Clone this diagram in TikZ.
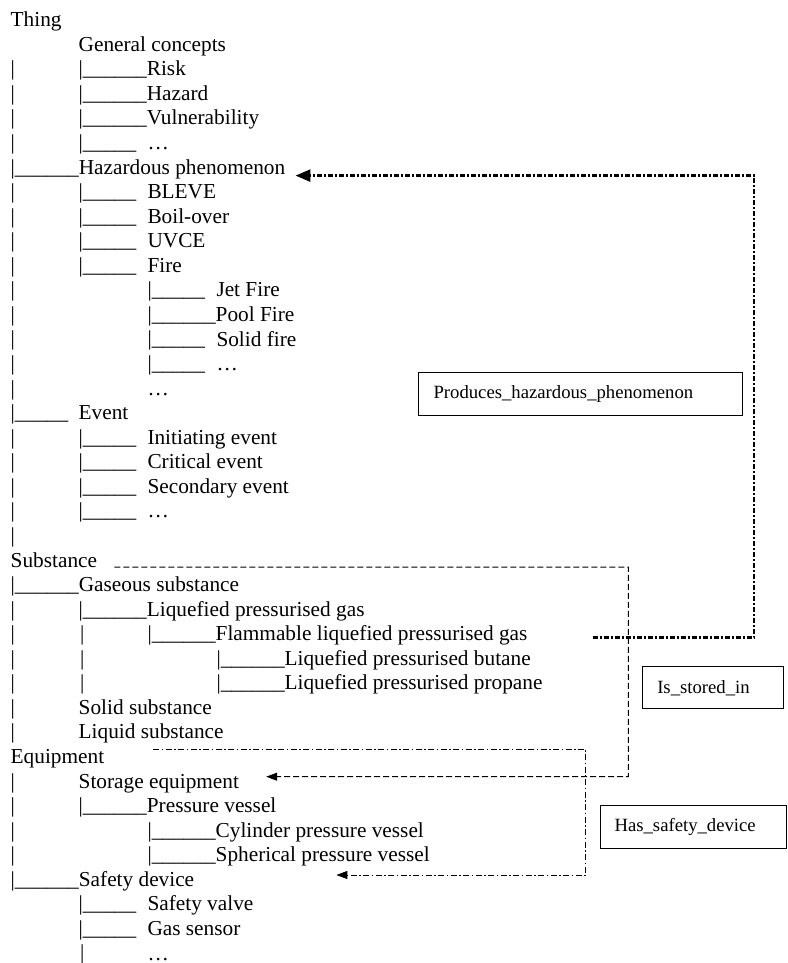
\documentclass[tikz,border=0pt]{standalone}
\usepackage{fontspec}
\setmainfont{Liberation Serif}
\usetikzlibrary{arrows.meta}

\newcommand{\treefont}{\fontsize{21.3}{24.6}\selectfont}
\newcommand{\relfont}{\fontsize{18.7}{22}\selectfont}

\begin{document}
\begin{tikzpicture}[x=1pt, y=-1pt,
    txt/.style={anchor=base west, inner sep=0pt, font=\treefont},
    relbox/.style={draw, line width=1.1pt, anchor=north west, inner ysep=0pt, align=left, font=\relfont},
    prodline/.style={line width=2.6pt, dash pattern=on 5pt off 2pt on 2pt off 2pt, -{Triangle[length=15pt,width=12pt]}},
    storeline/.style={line width=1pt, dash pattern=on 6pt off 3pt, -{Triangle[length=11pt,width=8pt]}},
    safeline/.style={line width=1pt, dash pattern=on 6pt off 2.5pt on 1.5pt off 2.5pt, -{Triangle[length=11pt,width=8pt]}}]
  \useasboundingbox (0,0) rectangle (787,963);

  % vertical bars of the first level
  \foreach \i in {2,3,4,5,7,8,9,10,11,12,13,14,15,17,18,19,20,21,24,25,26,27,28,29,31,32,33,34}
    \node[txt] (bara\i) at (10.5, 26.7+24.56*\i) {|};
  % short branches of the second level
  \foreach \i in {5,7,8,9,10,17,18,19,20,36,37}
    \node[txt] (brb\i) at (78.5, 26.7+24.56*\i) {|\_\_\_\_\_};
  \foreach \i in {25,26,27,38}
    \node[txt] (barb\i) at (80, 26.7+24.56*\i) {|};
  % short branches of the third level
  \foreach \i in {11,13,14}
    \node[txt] (brc\i) at (147.3, 26.7+24.56*\i) {|\_\_\_\_\_};

  % Thing
  \node[txt] (thing) at (10.5,26.7) {Thing};
  \node[txt] (gen) at (78.5,51.3) {General concepts};
  \node[txt] (risk) at (78.5,75.8) {|\_\_\_\_\_\_Risk};
  \node[txt] (hazard) at (78.5,100.4) {|\_\_\_\_\_\_Hazard};
  \node[txt] (vuln) at (78.5,124.9) {|\_\_\_\_\_\_Vulnerability};
  \node[txt] (gendots) at (147.3,149.5) {…};
  \node[txt] (haz) at (10.5,174.1) {|\_\_\_\_\_\_Hazardous phenomenon};
  \node[txt] (bleve) at (147.3,198.6) {BLEVE};
  \node[txt] (boil) at (147.3,223.2) {Boil-over};
  \node[txt] (uvce) at (147.3,247.7) {UVCE};
  \node[txt] (fire) at (147.3,272.3) {Fire};
  \node[txt] (jet) at (216.3,296.9) {Jet Fire};
  \node[txt] (pool) at (147.3,321.4) {|\_\_\_\_\_\_Pool Fire};
  \node[txt] (solid) at (216.3,346.0) {Solid fire};
  \node[txt] (firedots) at (216.3,370.5) {…};
  \node[txt] (hazdots) at (147.3,395.1) {…};
  \node[txt] (brevent) at (10.5,419.7) {|\_\_\_\_\_};
  \node[txt] (event) at (78.5,419.7) {Event};
  \node[txt] (init) at (147.3,444.2) {Initiating event};
  \node[txt] (crit) at (147.3,468.8) {Critical event};
  \node[txt] (second) at (147.3,493.3) {Secondary event};
  \node[txt] (eventdots) at (147.3,517.9) {…};

  % Substance
  \node[txt] (subst) at (10.5,567.0) {Substance};
  \node[txt] (gas) at (10.5,591.6) {|\_\_\_\_\_\_Gaseous substance};
  \node[txt] (lpg) at (78.5,616.1) {|\_\_\_\_\_\_Liquefied pressurised gas};
  \node[txt] (flam) at (147.3,640.7) {|\_\_\_\_\_\_Flammable liquefied pressurised gas};
  \node[txt] (butane) at (216.3,665.3) {|\_\_\_\_\_\_Liquefied pressurised butane};
  \node[txt] (propane) at (216.3,689.8) {|\_\_\_\_\_\_Liquefied pressurised propane};
  \node[txt] (solidsub) at (78.5,714.4) {Solid substance};
  \node[txt] (liquid) at (78.5,738.9) {Liquid substance};

  % Equipment
  \node[txt] (equip) at (10.5,763.5) {Equipment};
  \node[txt] (storage) at (78.5,788.1) {Storage equipment};
  \node[txt] (vessel) at (78.5,812.6) {|\_\_\_\_\_\_Pressure vessel};
  \node[txt] (cyl) at (147.3,837.2) {|\_\_\_\_\_\_Cylinder pressure vessel};
  \node[txt] (sphere) at (147.3,861.7) {|\_\_\_\_\_\_Spherical pressure vessel};
  \node[txt] (safety) at (10.5,886.3) {|\_\_\_\_\_\_Safety device};
  \node[txt] (valve) at (147.3,910.9) {Safety valve};
  \node[txt] (sensor) at (147.3,935.4) {Gas sensor};
  \node[txt] (safedots) at (147.3,960.0) {…};

  % relations
  \node[relbox, inner xsep=15pt, text width=294pt, text height=26pt, text depth=17pt] (prodbox) at (418,372) {Produces\_hazardous\_phenomenon};
  \node[relbox, inner xsep=15pt, text width=111pt, text height=27pt, text depth=14.7pt] (storebox) at (641.7,666) {Is\_stored\_in};
  \node[relbox, inner xsep=14pt, text width=158pt, text height=25.7pt, text depth=17.6pt] (safebox) at (600,805) {Has\_safety\_device};

  \coordinate (prodc) at (754,175.6);
  \coordinate (storec) at (628.3,776.7);
  \coordinate (safec) at (585.7,875);
  \draw[prodline] ([xshift=65pt,yshift=3pt]flam.base east) -| (prodc) -- ([xshift=10pt,yshift=-1.5pt]haz.base east);
  \draw[storeline] ([xshift=17pt]subst.base east) -| (storec) -- ([xshift=27pt,yshift=11.4pt]storage.base east);
  \draw[safeline] ([xshift=49pt,yshift=14.5pt]equip.base east) -| (safec) -- ([xshift=142pt,yshift=11.3pt]safety.base east);
\end{tikzpicture}
\end{document}
